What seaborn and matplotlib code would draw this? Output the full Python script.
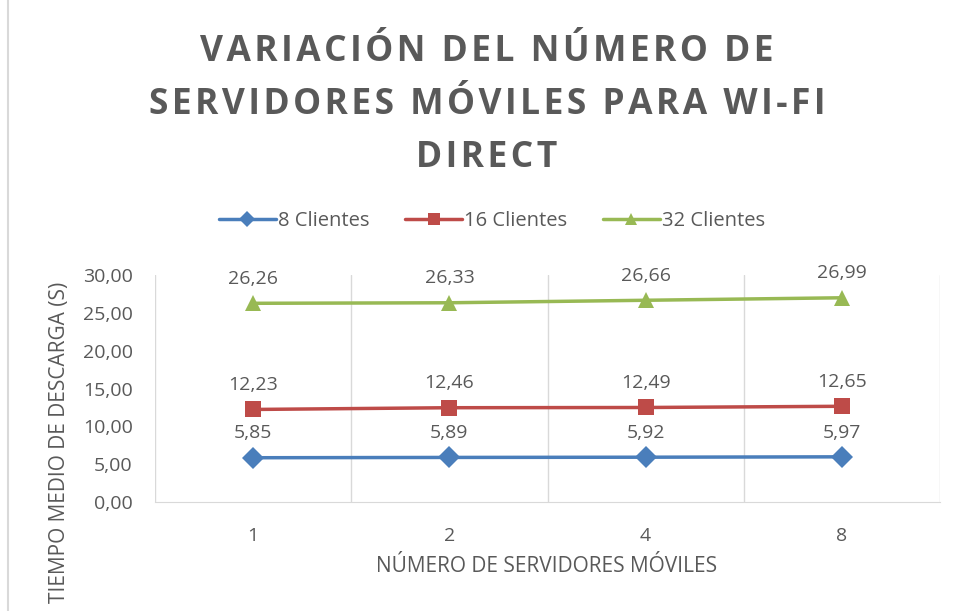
import matplotlib
matplotlib.use("Agg")
import matplotlib.pyplot as plt
import pandas as pd
import seaborn as sns
from matplotlib.lines import Line2D

servidores = ["1", "2", "4", "8"]
series = ["8 Clientes", "16 Clientes", "32 Clientes"]
clientes_8 = [5.85, 5.89, 5.92, 5.97]
clientes_16 = [12.23, 12.46, 12.49, 12.65]
clientes_32 = [26.26, 26.33, 26.66, 26.99]
y_ticks = [0, 5, 10, 15, 20, 25, 30]

COLORS = {"8 Clientes": "#4A7EBB", "16 Clientes": "#BE4B48", "32 Clientes": "#98B954"}
MARKERS = {"8 Clientes": "D", "16 Clientes": "s", "32 Clientes": "^"}
TEXT = "#595959"


def fmt(v):
    return f"{v:.2f}".replace(".", ",")


def spaced(s):
    return "\u200a".join(s)


sns.set_style("white")
plt.rcParams["font.family"] = ["Open Sans", "DejaVu Sans"]

rows = []
for name, vals in zip(series, [clientes_8, clientes_16, clientes_32]):
    for i, (lab, v) in enumerate(zip(servidores, vals)):
        rows.append({"pos": i, "servidores": lab, "serie": name, "tiempo": v})
df = pd.DataFrame(rows)

fig = plt.figure(figsize=(9.61, 6.11), dpi=100)
ax = fig.add_axes([155 / 961, 1 - 502 / 611, 785 / 961, 227 / 611])

sns.lineplot(
    data=df, x="pos", y="tiempo", hue="serie", style="serie",
    markers=MARKERS, dashes=False, palette=COLORS, hue_order=series,
    style_order=series, markersize=11, linewidth=2.5, markeredgewidth=0,
    legend=False, ax=ax, sort=False,
)

for name in series:
    sub = df[df["serie"] == name]
    for _, r in sub.iterrows():
        ax.annotate(fmt(r["tiempo"]), (r["pos"], r["tiempo"]), xytext=(0, 17.5),
                    textcoords="offset points", ha="center", va="center",
                    fontsize=14, color=TEXT)

ax.set_xlim(-0.5, len(servidores) - 0.5)
ax.set_ylim(0, 30)
ax.set_xticks(range(len(servidores)))
ax.set_xticklabels(servidores)
ax.set_xticks([i - 0.5 for i in range(len(servidores) + 1)], minor=True)
ax.set_yticks(y_ticks)
ax.set_yticklabels([fmt(t) for t in y_ticks])
ax.grid(which="minor", axis="x", color="#D9D9D9", linewidth=1)
ax.tick_params(which="both", length=0, labelsize=14, colors=TEXT)
ax.tick_params(axis="y", pad=16)
ax.tick_params(axis="x", pad=18)
ax.set_xlabel("")
ax.set_ylabel("")
for side in ["top", "right", "left"]:
    ax.spines[side].set_visible(False)
ax.spines["bottom"].set_color("#D9D9D9")

fig.text(547 / 961, 1 - 566 / 611, "NÚMERO DE SERVIDORES MÓVILES", ha="center",
         va="center", fontsize=15, color=TEXT)
fig.text(60 / 961, 1 - 442 / 611, "TIEMPO MEDIO DE DESCARGA (S)", ha="center",
         va="center", rotation=90, fontsize=15, color=TEXT)

title_lines = ["VARIACIÓN DEL NÚMERO DE", "SERVIDORES MÓVILES PARA WI-FI", "DIRECT"]
for k, line in enumerate(title_lines):
    fig.text(487 / 961, 1 - (52 + 53 * k) / 611, spaced(line), ha="center",
             va="center", fontsize=25.5, fontweight="bold", color=TEXT)

handles = [Line2D([0], [0], color=COLORS[s], marker=MARKERS[s], markersize=8,
                  linewidth=2.5, markeredgewidth=0) for s in series]
fig.legend(handles, series, loc="center", bbox_to_anchor=(492 / 961, 1 - 221 / 611),
           ncol=3, frameon=False, fontsize=14.5, handlelength=2.8,
           handletextpad=0.1, columnspacing=1.8, labelcolor=TEXT)

fig.add_artist(Line2D([8 / 961, 8 / 961], [0, 1], transform=fig.transFigure,
                      color="#D9D9D9", linewidth=1.5))

fig.savefig("out.png", dpi=100, facecolor="white")
